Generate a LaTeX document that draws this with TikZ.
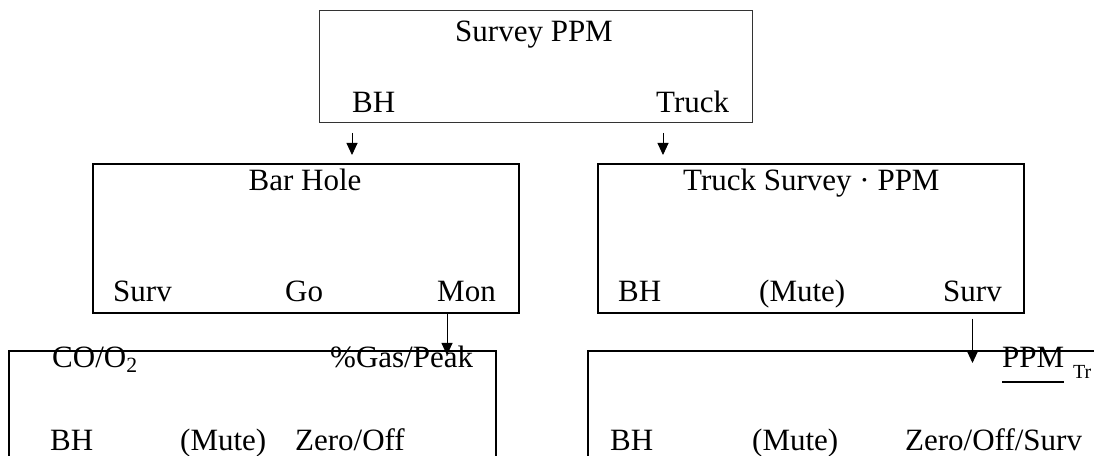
\documentclass[tikz,border=0pt]{standalone}
\usepackage{fontspec}
\setmainfont{Liberation Serif}
\usepackage{tikz}
\usetikzlibrary{positioning,calc,arrows.meta}
\definecolor{Frame}{HTML}{000000}
\definecolor{FrameThin}{HTML}{333333}

\tikzset{
	menubox/.style={draw=Frame, line width=1.6pt, inner sep=0pt, anchor=north west},
	topbox/.style={draw=FrameThin, line width=0.9pt, inner sep=0pt, anchor=north west},
	keylbl/.style={inner sep=0pt, anchor=base west, font=\fontsize{31}{36}\selectfont},
	keyarrow/.style={-{Triangle[width=11pt,length=12pt]}, line width=0.9pt, draw=Frame}
}

\begin{document}
\begin{tikzpicture}[x=1pt,y=1pt]
	\useasboundingbox (0,0) rectangle (1094,455);
	\clip (0,0) rectangle (1094,455);
	
	% menu boxes
	\node[topbox, minimum width=433pt, minimum height=112pt] (survppm) at (319,445) {};
	\node[menubox, minimum width=426pt, minimum height=149pt] (barhole) at (92,292) {};
	\node[menubox, minimum width=426pt, minimum height=149pt] (trucksurv) at (597,292) {};
	\node[menubox, minimum width=487pt, minimum height=140pt] (gasmenu) at (8,105) {};
	\node[menubox, minimum width=560pt, minimum height=140pt] (ppmtr) at (587,105) {};
	
	% Survey PPM
	\node[keylbl, anchor=base] (sppmtitle) at (534,413) {Survey PPM};
	\node[keylbl] (sppmbh) at (352,342) {BH};
	\node[keylbl] (sppmtruck) at (656,342) {Truck};
	
	% Bar Hole
	\node[keylbl, anchor=base] (bhtitle) at (305,264) {Bar Hole};
	\node[keylbl] (bhsurv) at (113,153) {Surv};
	\node[keylbl] (bhgo) at (285,153) {Go};
	\node[keylbl] (bhmon) at (437,153) {Mon};
	
	% Truck Survey
	\node[keylbl] (tstitle) at (683,264) {Truck Survey · PPM};
	\node[keylbl] (tsbh) at (618,153) {BH};
	\node[keylbl] (tsmute) at (759,153) {(Mute)};
	\node[keylbl] (tssurv) at (943,153) {Surv};
	
	% CO/O2 menu
	\node[keylbl] (gasco) at (52,88) {CO/O\textsubscript{2}};
	\node[keylbl] (gaspeak) at (330,88) {\%Gas/Peak};
	\node[keylbl] (gasbh) at (50,5) {BH};
	\node[keylbl] (gasmute) at (180,5) {(Mute)};
	\node[keylbl] (gaszero) at (295,5) {Zero/Off};
	
	% PPM truck menu
	\node[keylbl] (trppm) at (1002,88) {PPM};
	\draw[line width=1.6pt] ([yshift=-15pt]trppm.base west) -- ([yshift=-15pt]trppm.base east);
	\node[keylbl, font=\fontsize{20}{24}\selectfont] (trsub) at (1073,77) {Tr};
	\node[keylbl] (trbh) at (610,5) {BH};
	\node[keylbl] (trmute) at (752,5) {(Mute)};
	\node[keylbl] (trzero) at (905,5) {Zero/Off/Surv};
	
	% connectors
	\draw[keyarrow] ([yshift=-10pt]survppm.south -| sppmbh.west) -- ([yshift=8pt]barhole.north -| sppmbh.west);
	\draw[keyarrow] ([yshift=-10pt,xshift=7pt]survppm.south -| sppmtruck.west) -- ([yshift=8pt,xshift=7pt]trucksurv.north -| sppmtruck.west);
	\draw[keyarrow] ([xshift=10pt]barhole.south -| bhmon.west) -- ([xshift=10pt,yshift=-5pt]gasmenu.north -| bhmon.west);
	\draw[keyarrow] ([yshift=-5pt]trucksurv.south -| tssurv.center) -- ([yshift=-13pt]ppmtr.north -| tssurv.center);
\end{tikzpicture}
\end{document}
